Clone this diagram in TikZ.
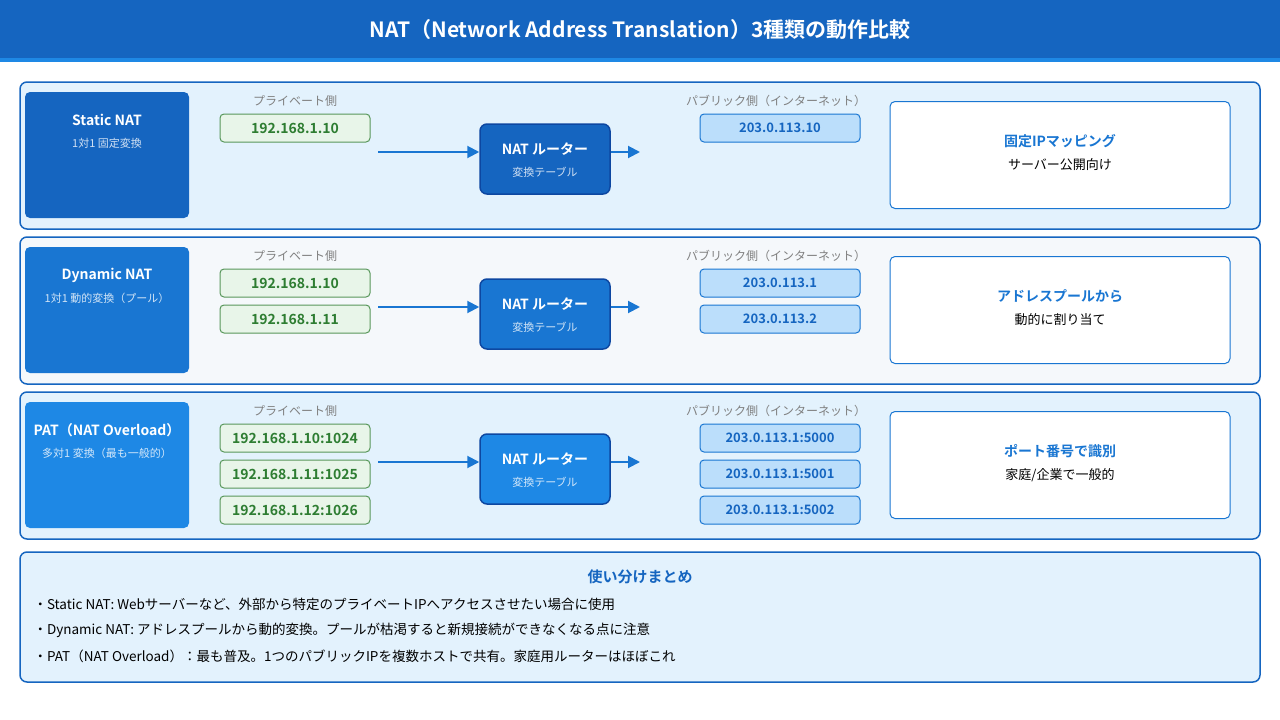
\documentclass[tikz,border=0pt]{standalone}
\usepackage{fontspec}
\setmainfont{Noto Sans CJK JP}[BoldFont={Noto Sans CJK JP Bold}]
\usetikzlibrary{positioning,arrows.meta}
\definecolor{navy}{HTML}{1565C0}
\definecolor{mid}{HTML}{1976D2}
\definecolor{sky}{HTML}{1E88E5}
\definecolor{deep}{HTML}{0D47A1}
\definecolor{pale}{HTML}{E3F2FD}
\definecolor{greyrow}{HTML}{F5F8FB}
\definecolor{leaf}{HTML}{2E7D32}
\definecolor{leafbg}{HTML}{E8F5E9}
\definecolor{pubbg}{HTML}{BBDEFB}
\begin{document}
\begin{tikzpicture}[x=1pt,y=-1pt,
        row/.style = {draw=navy, line width=1.5pt, rounded corners=7pt},
        kind/.style = {rounded corners=5pt, minimum width=164pt, minimum height=126pt},
        priv/.style = {draw=leaf!80, fill=leafbg, line width=1pt, rounded corners=4pt,
                minimum width=150pt, minimum height=28pt, text=leaf, font=\bfseries\fontsize{14}{16}\selectfont},
        pub/.style = {draw=mid, fill=pubbg, line width=1pt, rounded corners=4pt,
                minimum width=160pt, minimum height=28pt, text=navy, font=\bfseries\fontsize{13}{15}\selectfont},
        router/.style = {draw=deep, line width=1.5pt, rounded corners=7pt, minimum width=130pt,
                minimum height=70pt},
        note/.style = {draw=mid, fill=white, line width=1pt, rounded corners=5pt,
                minimum width=340pt, minimum height=107pt},
        side/.style = {text=gray, font=\fontsize{12}{14}\selectfont},
        flow/.style = {-{Triangle[length=12pt,width=12pt]}, draw=mid, line width=2pt},
        big/.style = {font=\bfseries\fontsize{14}{16}\selectfont},
        small/.style = {font=\fontsize{11}{13}\selectfont},
    ]
    \useasboundingbox (0,0) rectangle (1280,720);
    \fill[white] (0,0) rectangle (1280,720);

    % title
    \fill[navy] (0,0) rectangle (1280,58);
    \fill[sky] (0,58) rectangle (1280,62);
    \node[text=white, font=\bfseries\fontsize{21}{25}\selectfont] (title) at (640,30)
        {NAT（Network Address Translation）3種類の動作比較};

    % rows
    \foreach \y/\bg/\col/\name/\sub [count=\k] in
        {0/pale/navy/Static NAT/1対1 固定変換,
         155/greyrow/mid/Dynamic NAT/1対1 動的変換（プール）,
         310/pale/sky/PAT（NAT Overload）/多対1 変換（最も一般的）}
        {
            \draw[row, fill=\bg] (20,82+\y) rectangle (1260,229+\y);
            \node[kind, fill=\col] (kind\k) at (107,155+\y) {};
            \node[text=white, big] at (107,120+\y) {\name};
            \node[text=white!80!\col, small] at (107,143+\y) {\sub};
            \node[side] (privlbl\k) at (295,101+\y) {プライベート側};
            \node[side] (publbl\k) at (776,101+\y) {パブリック側（インターネット）};
            \node[router, fill=\col] (router\k) at (545,159+\y) {};
            \node[text=white, big] at (545,149+\y) {NAT ルーター};
            \node[text=white!80!\col, small] at (545,172+\y) {変換テーブル};
            \coordinate (in\k) at (378,152+\y);
            \coordinate (out\k) at (640,152+\y);
            \draw[flow] (in\k) -- (router\k.west |- in\k);
            \draw[flow] (router\k.east |- out\k) -- (out\k);
        }

    % addresses
    \node[priv] (p1) at (295,128) {192.168.1.10};
    \node[pub] (q1) at (780,128) {203.0.113.10};
    \node[priv] (p2) at (295,283) {192.168.1.10};
    \node[priv] (p3) at (295,319) {192.168.1.11};
    \node[pub] (q2) at (780,283) {203.0.113.1};
    \node[pub] (q3) at (780,319) {203.0.113.2};
    \node[priv] (p4) at (295,438) {192.168.1.10:1024};
    \node[priv] (p5) at (295,474) {192.168.1.11:1025};
    \node[priv] (p6) at (295,510) {192.168.1.12:1026};
    \node[pub] (q4) at (780,438) {203.0.113.1:5000};
    \node[pub] (q5) at (780,474) {203.0.113.1:5001};
    \node[pub] (q6) at (780,510) {203.0.113.1:5002};

    % notes
    \foreach \y/\head/\body [count=\k] in
        {0/固定IPマッピング/サーバー公開向け,
         155/アドレスプールから/動的に割り当て,
         310/ポート番号で識別/{家庭/企業で一般的}}
        {
            \node[note] (note\k) at (1060,155+\y) {};
            \node[text=mid, big] at (1060,141+\y) {\head};
            \node[font=\fontsize{13}{15}\selectfont] at (1060,165+\y) {\body};
        }

    % summary
    \draw[row, fill=pale] (20,552) rectangle (1260,682);
    \node[text=navy, font=\bfseries\fontsize{15}{18}\selectfont] (sumtitle) at (640,577) {使い分けまとめ};
    \begin{scope}[every node/.style={anchor=west, font=\fontsize{13.5}{16}\selectfont}]
        \node (s1) at (30,604) {・Static NAT: Webサーバーなど、外部から特定のプライベートIPへアクセスさせたい場合に使用};
        \node (s2) at (30,630) {・Dynamic NAT: アドレスプールから動的変換。プールが枯渇すると新規接続ができなくなる点に注意};
        \node (s3) at (30,656) {・PAT（NAT Overload）：最も普及。1つのパブリックIPを複数ホストで共有。家庭用ルーターはほぼこれ};
    \end{scope}
\end{tikzpicture}
\end{document}
